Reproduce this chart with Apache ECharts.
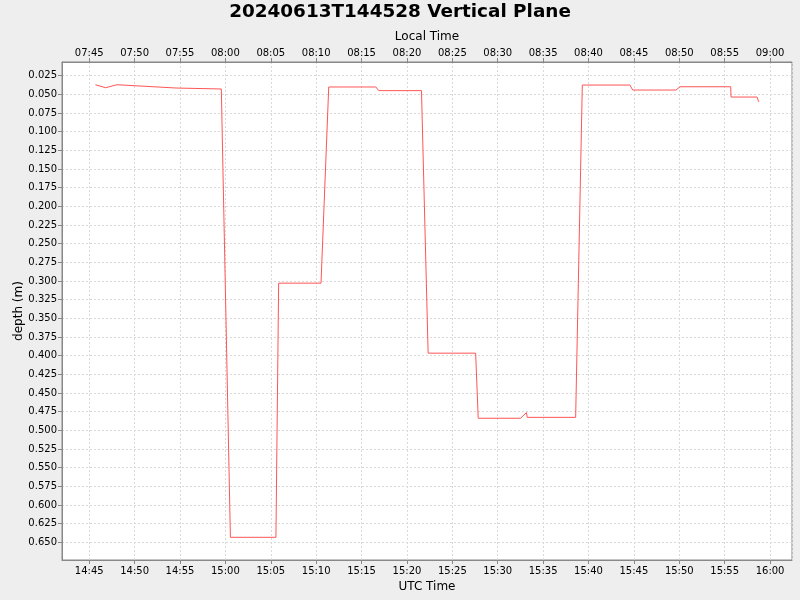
<!DOCTYPE html>
<html>
<head>
<meta charset="utf-8">
<title>20240613T144528 Vertical Plane</title>
<script src="https://cdn.jsdelivr.net/npm/echarts@6/dist/echarts.min.js"></script>
<style>
  html, body { margin: 0; padding: 0; background: #eeeeee; }
  #chart { width: 800px; height: 600px; }
</style>
</head>
<body>
<div id="chart"></div>
<script>
// sample times (UTC, 2024-06-13) and depth in metres
var times = [
  '14:45:41', '14:46:48', '14:48:03', '14:54:35', '14:54:38', '14:59:33',
  '15:00:33', '15:05:34', '15:05:52', '15:10:32', '15:11:23', '15:16:34',
  '15:16:54', '15:21:36', '15:22:20', '15:27:34', '15:27:51', '15:32:31',
  '15:33:10', '15:33:15', '15:38:35', '15:39:19', '15:44:34', '15:44:52',
  '15:49:38', '15:50:05', '15:55:40', '15:55:42', '15:58:34', '15:58:45'
];
var depths = [
  0.0371, 0.0411, 0.0371, 0.0415, 0.0428, 0.0428,
  0.6434, 0.6434, 0.3029, 0.3029, 0.0401, 0.0401,
  0.0450, 0.0450, 0.3967, 0.3967, 0.4839, 0.4839,
  0.4763, 0.4827, 0.4827, 0.0375, 0.0375, 0.0442,
  0.0442, 0.0398, 0.0398, 0.0536, 0.0536, 0.0599
];
var xRange = ['14:42:00', '16:02:25'];
var yRange = [0.00664, 0.6738];
var localOffsetHours = -7;

function utc(t) {
  var p = t.split(':');
  return Date.UTC(2024, 5, 13, +p[0], +p[1], +p[2]);
}
function hhmm(ms) {
  var d = new Date(ms);
  var h = d.getUTCHours(), m = d.getUTCMinutes();
  return (h < 10 ? '0' : '') + h + ':' + (m < 10 ? '0' : '') + m;
}

var points = times.map(function (t, i) { return [utc(t), depths[i]]; });
var font = 'DejaVu Sans';
var axisGrey = '#888888';

var chart = echarts.init(document.getElementById('chart'));
chart.setOption({
  animation: false,
  backgroundColor: '#eeeeee',
  textStyle: { fontFamily: font },
  title: {
    text: '20240613T144528 Vertical Plane',
    left: 'center',
    top: 3,
    padding: 0,
    textStyle: { fontFamily: font, fontSize: 18.4, fontWeight: 'bold', color: '#000' }
  },
  grid: {
    left: 62, right: 8, top: 62, bottom: 40,
    outerBoundsMode: 'none',
    containLabel: false,
    show: true,
    backgroundColor: '#ffffff',
    borderColor: axisGrey,
    borderWidth: 1
  },
  xAxis: [
    {
      type: 'value',
      position: 'bottom',
      min: utc(xRange[0]),
      max: utc(xRange[1]),
      minInterval: 300000,
      maxInterval: 300000,
      splitNumber: 16,
      name: 'UTC Time',
      nameLocation: 'middle',
      nameGap: 19,
      nameTextStyle: { fontFamily: font, fontSize: 12, color: '#000' },
      axisLine: { lineStyle: { color: axisGrey } },
      axisTick: { length: 4, lineStyle: { color: axisGrey } },
      axisLabel: {
        fontFamily: font, fontSize: 10, color: '#000', margin: 6,
        showMinLabel: false, showMaxLabel: false,
        formatter: function (v) { return hhmm(v); }
      },
      splitLine: { show: true, lineStyle: { color: '#d9d9d9', type: [2, 2] } }
    },
    {
      type: 'value',
      position: 'top',
      min: utc(xRange[0]),
      max: utc(xRange[1]),
      minInterval: 300000,
      maxInterval: 300000,
      splitNumber: 16,
      name: 'Local Time',
      nameLocation: 'middle',
      nameGap: 14,
      nameTextStyle: { fontFamily: font, fontSize: 12, color: '#000' },
      axisLine: { lineStyle: { color: axisGrey } },
      axisTick: { length: 4, lineStyle: { color: axisGrey } },
      axisLabel: {
        fontFamily: font, fontSize: 10, color: '#000', margin: 4,
        showMinLabel: false, showMaxLabel: false,
        formatter: function (v) { return hhmm(v + localOffsetHours * 3600000); }
      },
      splitLine: { show: false }
    }
  ],
  yAxis: {
    type: 'value',
    inverse: true,
    min: yRange[0],
    max: yRange[1],
    minInterval: 0.025,
    maxInterval: 0.025,
    splitNumber: 27,
    name: 'depth (m)',
    nameLocation: 'middle',
    nameGap: 37,
    nameMoveOverlap: false,
    nameTextStyle: { fontFamily: font, fontSize: 12, color: '#000' },
    axisLine: { lineStyle: { color: axisGrey } },
    axisTick: { length: 4, lineStyle: { color: axisGrey } },
    axisLabel: {
      fontFamily: font, fontSize: 10, color: '#000', margin: 5,
      showMinLabel: false, showMaxLabel: false,
      formatter: function (v) { return v.toFixed(3); }
    },
    splitLine: { show: true, lineStyle: { color: '#d9d9d9', type: [2, 2] } }
  },
  series: [
    {
      type: 'line',
      xAxisIndex: 0,
      data: points,
      showSymbol: false,
      lineStyle: { color: '#ff5555', width: 1 },
      itemStyle: { color: '#ff5555' }
    }
  ]
});
</script>
</body>
</html>
